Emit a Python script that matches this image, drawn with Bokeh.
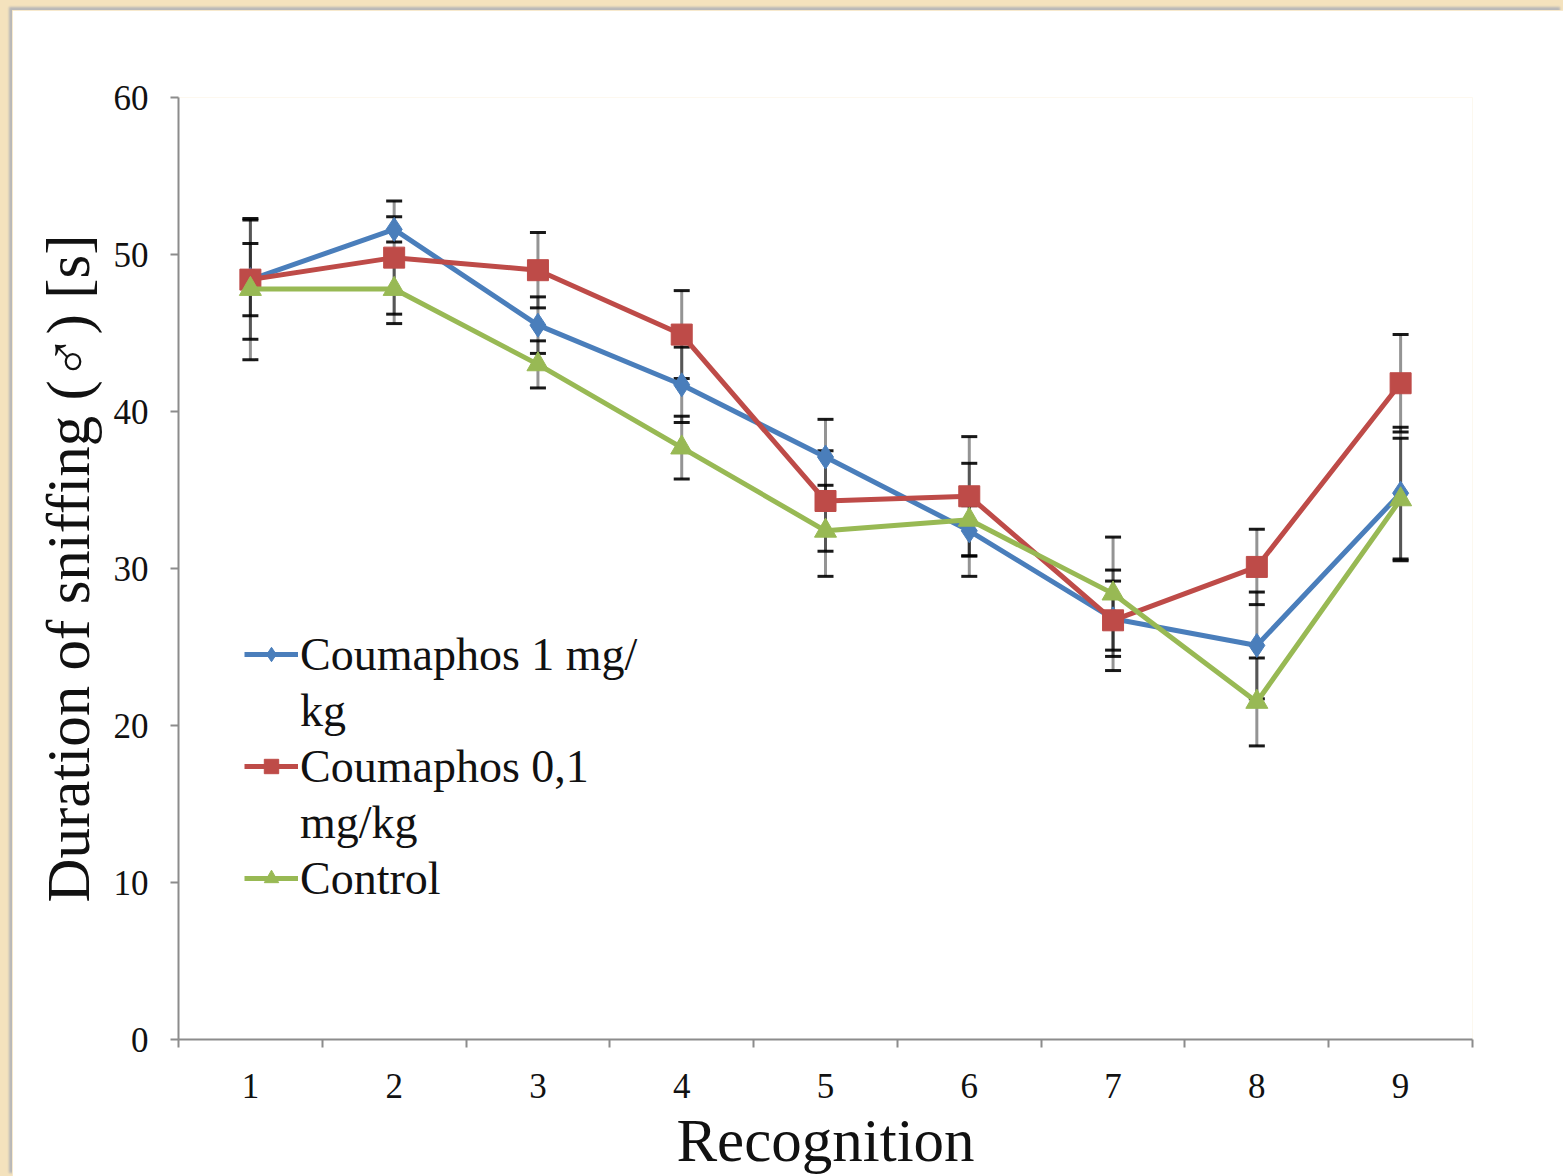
from bokeh.plotting import figure
from bokeh.models import (ColumnDataSource, Whisker, TeeHead, FixedTicker, Legend,
                          LegendItem, Range1d, GlobalInlineStyleSheet)
from bokeh.embed import file_html
from bokeh.resources import INLINE

# ---- data ----
recognition = [1, 2, 3, 4, 5, 6, 7, 8, 9]
y_ticks = [0, 10, 20, 30, 40, 50, 60]

coumaphos_1 = [48.4, 51.6, 45.5, 41.7, 37.1, 32.4, 26.8, 25.1, 34.8]
coumaphos_1_err = [2.3, 0.8, 1.8, 2.4, 2.4, 1.6, 2.4, 3.4, 4.2]

coumaphos_01 = [48.4, 49.8, 49.0, 44.9, 34.3, 34.6, 26.7, 30.1, 41.8]
coumaphos_01_err = [3.8, 3.6, 2.4, 2.8, 3.2, 3.8, 3.2, 2.4, 3.1]

control = [47.8, 47.8, 43.0, 37.7, 32.4, 33.1, 28.4, 21.5, 34.4]
control_err = [4.5, 2.2, 1.5, 2.0, 2.9, 3.6, 3.6, 2.8, 3.9]

series_labels = [["Coumaphos 1 mg/", "kg"], ["Coumaphos 0,1", "mg/kg"], ["Control"]]

BLUE = "#4a7ebb"
RED = "#be4b48"
GREEN = "#98b954"
AXIS = "#8c8c8c"
FONT = "Liberation Serif"

p = figure(width=1551, height=1166,
           x_range=Range1d(0.5, 9.5), y_range=Range1d(0, 60),
           output_backend="svg", toolbar_location=None,
           min_border_left=166, min_border_right=91,
           min_border_top=87, min_border_bottom=135,
           background_fill_color="white", border_fill_color="white",
           outline_line_color=None)
p.styles = {"margin-left": "12px", "margin-top": "10px",
            "box-shadow": "-3px -3px 2px #b8b8b8"}
p.stylesheets = [GlobalInlineStyleSheet(
    css="html, body { background-color: #f4e2bd; margin: 0; padding: 0; overflow: hidden; }")]

p.xgrid.visible = False
p.ygrid.visible = False

# x axis: labels at categories, tick marks at category boundaries
xa = p.xaxis[0]
xa.ticker = FixedTicker(ticks=recognition, minor_ticks=[i + 0.5 for i in range(0, 10)])
xa.major_tick_out = 0
xa.major_tick_in = 0
xa.minor_tick_out = 8
xa.minor_tick_in = 0
xa.minor_tick_line_color = AXIS
xa.minor_tick_line_width = 2
xa.axis_line_color = AXIS
xa.axis_line_width = 2
xa.major_label_text_font = FONT
xa.major_label_text_font_size = "35px"
xa.major_label_text_color = "#111111"
xa.major_label_standoff = 26
xa.axis_label = "Recognition"
xa.axis_label_text_font = FONT
xa.axis_label_text_font_size = "61px"
xa.axis_label_text_font_style = "normal"
xa.axis_label_text_color = "#111111"
xa.axis_label_standoff = 6

ya = p.yaxis[0]
ya.ticker = FixedTicker(ticks=y_ticks)
ya.major_tick_out = 8
ya.major_tick_in = 0
ya.minor_tick_out = 0
ya.minor_tick_in = 0
ya.major_tick_line_color = AXIS
ya.major_tick_line_width = 2
ya.axis_line_color = AXIS
ya.axis_line_width = 2
ya.major_label_text_font = FONT
ya.major_label_text_font_size = "35px"
ya.major_label_text_color = "#111111"
ya.major_label_standoff = 22
ya.axis_label = "Duration of sniffing (\u2642) [s]"
ya.axis_label_text_font = FONT
ya.axis_label_text_font_size = "61px"
ya.axis_label_text_font_style = "normal"
ya.axis_label_text_color = "#111111"
ya.axis_label_standoff = 9

series = [
    (coumaphos_1, coumaphos_1_err, BLUE, "diamond", 24),
    (coumaphos_01, coumaphos_01_err, RED, "square", 21),
    (control, control_err, GREEN, "triangle", 22),
]

# error bars
for vals, errs, col, mk, sz in series:
    src = ColumnDataSource(dict(
        x=recognition,
        upper=[v + e for v, e in zip(vals, errs)],
        lower=[v - e for v, e in zip(vals, errs)],
    ))
    w = Whisker(base="x", upper="upper", lower="lower", source=src, dimension="height",
                line_color="black", line_alpha=0.42, line_width=3,
                upper_head=TeeHead(size=16, line_color="black", line_width=3, line_alpha=0.9),
                lower_head=TeeHead(size=16, line_color="black", line_width=3, line_alpha=0.9))
    p.add_layout(w)

renderers = []
for vals, errs, col, mk, sz in series:
    ln = p.line(recognition, vals, line_color=col, line_width=5)
    sc = p.scatter(recognition, vals, marker=mk, size=sz, fill_color=col, line_color=col)
    renderers.append([ln, sc])

dummy = p.line([], [], line_alpha=0)

items = []
for rs, labs in zip(renderers, series_labels):
    items.append(LegendItem(label=labs[0], renderers=rs))
    for extra in labs[1:]:
        items.append(LegendItem(label=extra, renderers=[dummy]))

legend = Legend(items=items, location=(66, 133), padding=0, margin=0, spacing=0,
                label_height=56, glyph_width=54, glyph_height=36, label_standoff=2,
                border_line_alpha=0, background_fill_alpha=0,
                label_text_font=FONT, label_text_font_size="46px",
                label_text_color="#111111")
p.add_layout(legend)

open("out.html", "w").write(file_html(p, INLINE))
